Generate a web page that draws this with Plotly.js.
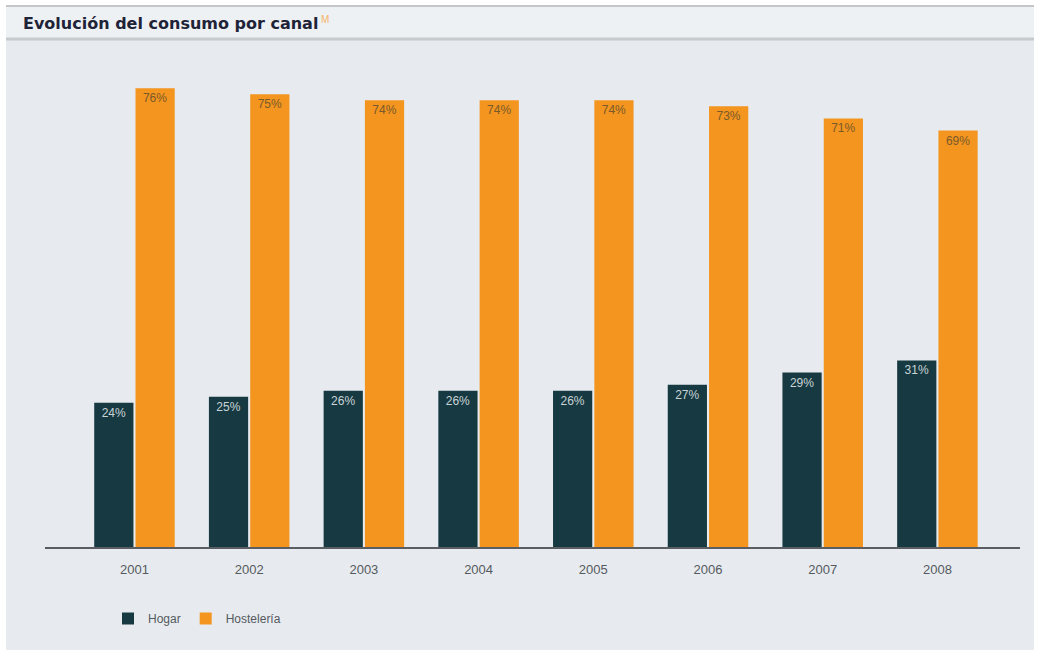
<!DOCTYPE html>
<html>
<head>
<meta charset="utf-8">
<script src="https://cdn.plot.ly/plotly-3.0.1.min.js"></script>
<style>
html,body{margin:0;padding:0;background:#ffffff;}
#chart{width:1039px;height:655px;}
</style>
</head>
<body>
<div id="chart"></div>
<script>
const years = ["2001","2002","2003","2004","2005","2006","2007","2008"];
const hogar = [24, 25, 26, 26, 26, 27, 29, 31];
const hosteleria = [76, 75, 74, 74, 74, 73, 71, 69];
const seriesNames = ["Hogar", "Hostelería"];

const W = 1039, H = 655;
const L = 45, R = 1020, T = 70, B = 548;
const px = x => (x - L) / (R - L);
const py = y => (B - y) / (B - T);

const traces = [
  {
    type: "bar", name: seriesNames[0], x: years, y: hogar,
    marker: {color: "#173a42"},
    text: hogar.map(v => v + "%"), textposition: "inside", insidetextanchor: "end",
    textfont: {family: "Liberation Sans Narrow, Liberation Sans, Arial", size: 12, color: "#c9d3d6"},
    textangle: 0, hoverinfo: "none"
  },
  {
    type: "bar", name: seriesNames[1], x: years, y: hosteleria,
    marker: {color: "#f3951f"},
    text: hosteleria.map(v => v + "%"), textposition: "inside", insidetextanchor: "end",
    textfont: {family: "Liberation Sans Narrow, Liberation Sans, Arial", size: 12, color: "#7a5a2a"},
    textangle: 0, hoverinfo: "none"
  }
];

const layout = {
  width: W, height: H,
  margin: {l: L, r: W - R, t: T, b: H - B},
  paper_bgcolor: "#ffffff",
  plot_bgcolor: "rgba(0,0,0,0)",
  barmode: "group",
  bargap: 0.28,
  bargroupgap: 0.05,
  showlegend: true,
  legend: {
    orientation: "h", x: px(108), y: py(604), xanchor: "left", yanchor: "top",
    font: {family: "Liberation Sans Narrow, Liberation Sans, Arial", size: 12, color: "#555a60"},
    bgcolor: "rgba(0,0,0,0)", itemwidth: 30, traceorder: "normal"
  },
  xaxis: {
    type: "category", range: [-0.78, 7.72],
    showgrid: false, zeroline: false,
    showline: false, ticks: "",
    tickfont: {family: "Liberation Sans Narrow, Liberation Sans, Arial", size: 13, color: "#555a60"},
    ticklabelstandoff: 12
  },
  yaxis: {
    range: [0, 79], showgrid: false, zeroline: false, showline: false,
    showticklabels: false, ticks: ""
  },
  shapes: [
    {type: "rect", xref: "paper", yref: "paper", layer: "below",
     x0: px(6), x1: px(1034), y0: py(650), y1: py(5),
     fillcolor: "#e7ebef", line: {width: 0}},
    {type: "rect", xref: "paper", yref: "paper", layer: "below",
     x0: px(6), x1: px(1034), y0: py(39), y1: py(5),
     fillcolor: "#eef1f4", line: {width: 0}},
    {type: "line", xref: "paper", yref: "paper", layer: "below",
     x0: px(6), x1: px(1034), y0: py(6), y1: py(6),
     line: {color: "#c4c6c9", width: 2}},
    {type: "line", xref: "paper", yref: "paper", layer: "below",
     x0: px(6), x1: px(1034), y0: py(39), y1: py(39),
     line: {color: "#c8cbce", width: 3}},
    {type: "line", xref: "paper", yref: "paper", layer: "above",
     x0: px(45), x1: px(1020), y0: 0, y1: 0,
     line: {color: "#5a5e62", width: 2}}
  ],
  annotations: [
    {xref: "paper", yref: "paper", x: px(21), y: py(24), xanchor: "left", yanchor: "middle",
     text: "<b>Evolución del consumo por canal</b>",
     showarrow: false,
     font: {family: "DejaVu Sans, Liberation Sans, Arial", size: 16, color: "#1e2338"}}
  ]
};

Plotly.newPlot("chart", traces, layout, {staticPlot: true, displayModeBar: false}).then(() => {
  // place the small orange footnote mark right after the title text
  const ann = document.querySelector(".annotation text");
  let endX = 325;
  if (ann && ann.getBBox) {
    const bb = ann.getBBox();
    const g = ann.closest(".annotation-text-g");
    const rect = ann.getBoundingClientRect();
    const host = document.getElementById("chart").getBoundingClientRect();
    endX = rect.right - host.left;
  }
  Plotly.relayout("chart", {
    "annotations[1]": {xref: "paper", yref: "paper", x: px(endX + 1), y: py(19),
      xanchor: "left", yanchor: "middle", text: "M", showarrow: false,
      font: {family: "Liberation Sans, Arial", size: 10, color: "#f5b56a"}}
  });
});
</script>
</body>
</html>
